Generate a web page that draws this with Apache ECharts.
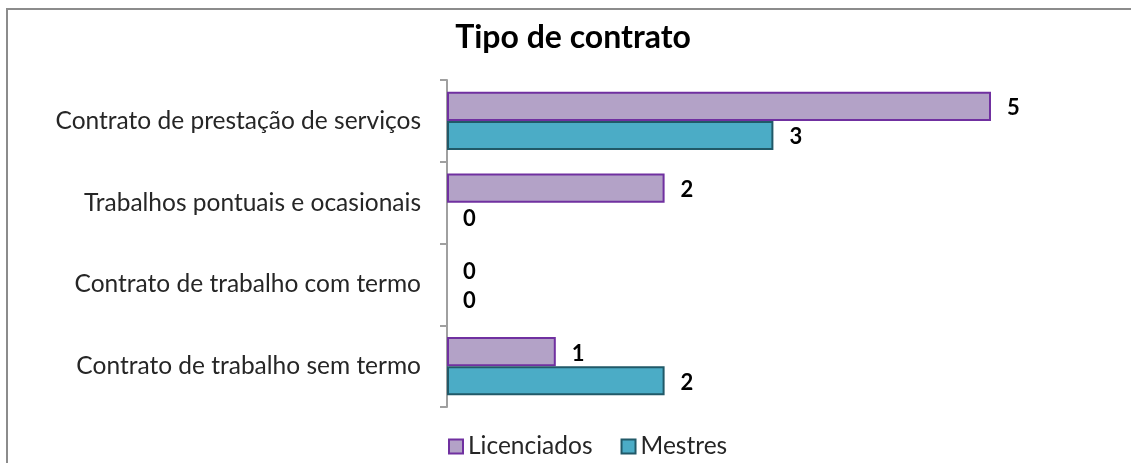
<!DOCTYPE html>
<html><head><meta charset="utf-8">
<script src="https://cdn.jsdelivr.net/npm/echarts@6/dist/echarts.min.js"></script>
<style>html,body{margin:0;padding:0;background:#fff}#c{width:1131px;height:463px}</style>
</head><body><div id="c"></div>
<script>
const categories = ["Contrato de prestação de serviços","Trabalhos pontuais e ocasionais","Contrato de trabalho com termo","Contrato de trabalho sem termo"];
const licenciados = [5, 2, 0, 1];
const mestres = [3, 0, 0, 2];
const seriesNames = ["Licenciados", "Mestres"];

const chart = echarts.init(document.getElementById('c'));
const labelStyle = {show:true, position:'right', distance:16, offset:[0,2], color:'#000', fontWeight:'bold', fontSize:22, fontFamily:'Lato'};
const prep = arr => arr.map(v => v === 0 ? {value:v, itemStyle:{borderWidth:0}} : v);
chart.setOption({
  animation:false,
  title:{text:'Tipo de contrato', left:568, top:17, textAlign:'center',
    textStyle:{fontFamily:'Lato', fontWeight:'bold', fontSize:32, color:'#000'}},
  legend:{data:seriesNames, left:443, top:429, itemWidth:14, itemHeight:14, itemGap:28,
    textStyle:{fontFamily:'Lato', fontSize:24.5, color:'#262626'}, icon:'rect'},
  grid:{left:447, right:140, top:80, bottom:56},
  xAxis:{type:'value', min:0, max:5, show:false},
  yAxis:{type:'category', data:categories, inverse:true,
    axisLine:{show:true, lineStyle:{color:'#A0A0A0', width:2}},
    axisTick:{show:true, inside:false, length:7, lineStyle:{color:'#A0A0A0', width:2}},
    axisLabel:{margin:26, fontFamily:'Lato', fontSize:24.5, color:'#262626'}},
  series:[
    {name:seriesNames[0], type:'bar', data:prep(licenciados), barCategoryGap:'29%', barGap:'0%',
      itemStyle:{color:'#B3A2C7', borderColor:'#7030A0', borderWidth:2}, label:labelStyle},
    {name:seriesNames[1], type:'bar', data:prep(mestres), barCategoryGap:'29%', barGap:'0%',
      itemStyle:{color:'#4BACC6', borderColor:'#215968', borderWidth:2}, label:labelStyle}
  ],
  graphic:[
    {type:'line', shape:{x1:6, y1:9, x2:1131, y2:9}, style:{stroke:'#8C8C8C', lineWidth:2}},
    {type:'line', shape:{x1:7, y1:9, x2:7, y2:463}, style:{stroke:'#8C8C8C', lineWidth:2}}
  ]
});
</script></body></html>
